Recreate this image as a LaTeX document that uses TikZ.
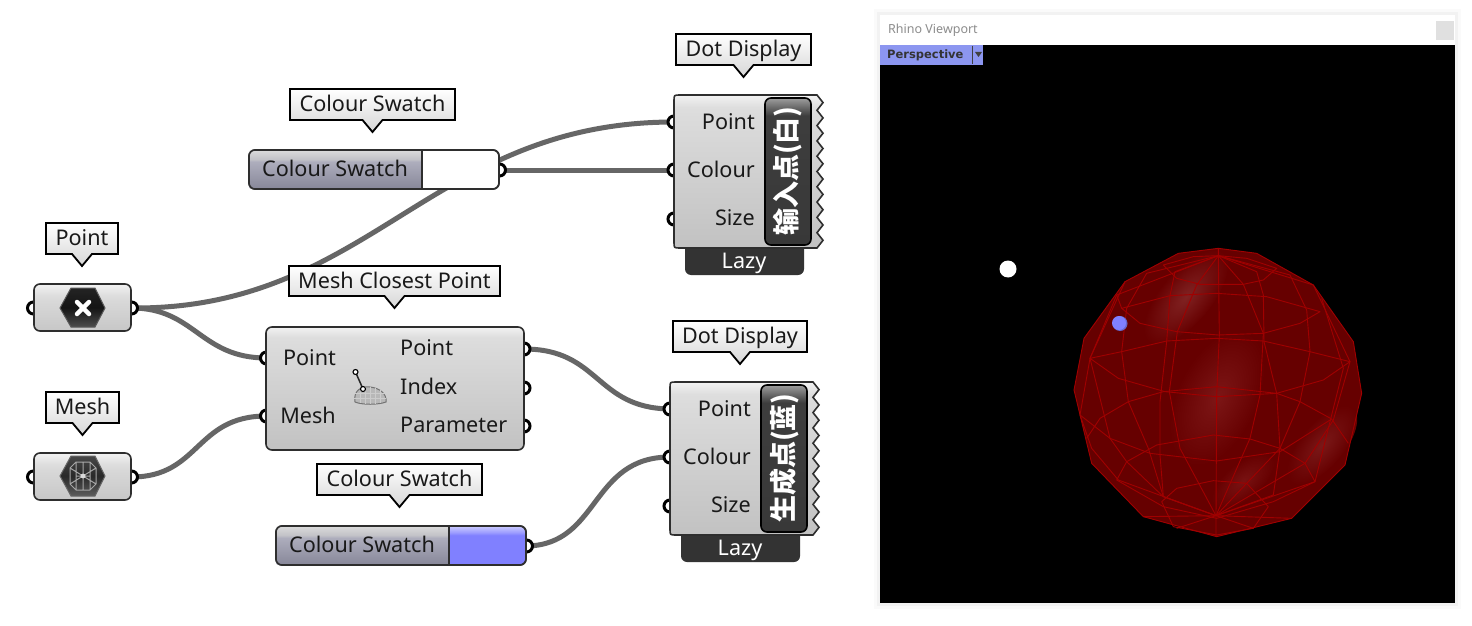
\documentclass[tikz,border=0pt]{standalone}
\usepackage{fontspec}
\setmainfont{Noto Sans}
\newfontfamily\cjk{Noto Sans CJK SC}
\newfontfamily\tabfont{DejaVu Sans}
\usetikzlibrary{shapes.geometric}
\pgfdeclarelayer{wirelayer}
\pgfsetlayers{wirelayer,main}
\pgfdeclareverticalshading{compshade}{100bp}{rgb(0bp)=(.76,.76,.76); rgb(25bp)=(.76,.76,.76); rgb(68bp)=(.86,.86,.86); rgb(71bp)=(.87,.87,.87); rgb(75bp)=(.95,.95,.95); rgb(100bp)=(.95,.95,.95)}
\pgfdeclareverticalshading{paramshade}{100bp}{rgb(0bp)=(.78,.78,.78); rgb(25bp)=(.78,.78,.78); rgb(58bp)=(.85,.85,.85); rgb(63bp)=(.87,.87,.87); rgb(75bp)=(.95,.95,.95); rgb(100bp)=(.95,.95,.95)}
\pgfdeclareverticalshading{tipshade}{100bp}{rgb(0bp)=(.84,.84,.84); rgb(25bp)=(.84,.84,.84); rgb(75bp)=(1,1,1); rgb(100bp)=(1,1,1)}
\pgfdeclareverticalshading{labelshade}{100bp}{rgb(0bp)=(.22,.22,.22); rgb(25bp)=(.22,.22,.22); rgb(69bp)=(.24,.24,.24); rgb(71bp)=(.36,.36,.36); rgb(75bp)=(.62,.62,.62); rgb(100bp)=(.62,.62,.62)}
\pgfdeclareverticalshading{swatchshade}{100bp}{rgb(0bp)=(.53,.53,.60); rgb(25bp)=(.53,.53,.60); rgb(60bp)=(.68,.68,.74); rgb(63bp)=(.76,.76,.78); rgb(75bp)=(.86,.86,.86); rgb(100bp)=(.86,.86,.86)}
\pgfdeclareverticalshading{blueshade}{100bp}{rgb(0bp)=(.5,.5,1); rgb(25bp)=(.5,.5,1); rgb(63bp)=(.5,.5,1); rgb(67bp)=(.62,.62,1); rgb(75bp)=(.8,.8,1); rgb(100bp)=(.8,.8,1)}
\pgfdeclareverticalshading{hexshade}{100bp}{rgb(0bp)=(.30,.30,.30); rgb(25bp)=(.30,.30,.30); rgb(50bp)=(.08,.08,.08); rgb(75bp)=(.14,.14,.14); rgb(100bp)=(.14,.14,.14)}
\pgfdeclareverticalshading{hexmesh}{100bp}{rgb(0bp)=(.36,.36,.36); rgb(25bp)=(.36,.36,.36); rgb(50bp)=(.16,.16,.16); rgb(75bp)=(.28,.28,.28); rgb(100bp)=(.28,.28,.28)}
\definecolor{wirec}{HTML}{666666}
\definecolor{edgec}{HTML}{2E2E2E}
\definecolor{lazyc}{HTML}{333333}
\definecolor{tabc}{HTML}{8C96F0}
\definecolor{meshc}{HTML}{A00000}
\definecolor{bluedot}{HTML}{8080FF}
\definecolor{spherec}{HTML}{660000}
\definecolor{hla}{HTML}{802222}
\definecolor{hlb}{HTML}{7C1616}
\definecolor{hlc}{HTML}{7A1818}
\definecolor{hld}{HTML}{781212}
\tikzset{
  x=1pt,y=-1pt,
  port/.style={circle,draw=black,fill=white,line width=3pt,minimum size=12pt,inner sep=0pt},
  wire/.style={draw=wirec,line width=5pt},
  txt/.style={font=\fontsize{21.6}{26}\selectfont,text=black!90,inner sep=0pt,text height=17pt,text depth=2.5pt},
  comp/.style={draw=edgec,line width=1.6pt,shading=compshade,rounded corners=6pt},
  param/.style={draw=edgec,line width=1.6pt,shading=paramshade,rounded corners=6pt},
  tipbox/.style={draw=black,line width=1.8pt,shading=tipshade,line join=miter},
  meshline/.style={draw=meshc,line width=.9pt,line join=round},
}
% tooltip: id x1 y1 x2 y2 text
\newcommand{\tipnote}[6]{%
  \path[tipbox] (#2,#3) -- (#4,#3) -- (#4,#5) -- ({(#2+#4)/2+10},#5) -- ({(#2+#4)/2},#5+12) -- ({(#2+#4)/2-10},#5) -- (#2,#5) -- cycle;
  \node[txt] (#1) at ({(#2+#4)/2},{(#3+#5)/2}) {#6};}
% dot display
\newcommand{\dotdisp}[4]{%
\begin{scope}[shift={(#2,#3)}]
  \node[port] (#1a) at (674,122) {};
  \node[port] (#1b) at (674,170) {};
  \node[port] (#1c) at (674,219) {};
  \path[fill=lazyc,rounded corners=6pt] (685,235) rectangle (804,275);
  \node[txt,text=white] (#1lazy) at (744,261.5) {Lazy};
  \path[draw=edgec,line width=1.6pt,shading=compshade] (680,95) -- (817,95)
     \foreach \i in {0,...,9} { -- (823,{95+15.3*\i+7.6}) -- (817,{95+15.3*(\i+1)}) }
     -- (680,248) .. controls (674,248) .. (674,242) -- (674,101) .. controls (674,95) .. (680,95) -- cycle;
  \path[draw=black,line width=1.6pt,shading=labelshade,rounded corners=6pt] (765,98) rectangle (811,245);
  \node[rotate=90,font=\fontsize{27}{30}\selectfont\cjk\bfseries,text=white,inner sep=0pt] (#1name) at (788,171) {#4};
  \node[txt,anchor=east] (#1pt) at (755,122) {Point};
  \node[txt,anchor=east] (#1col) at (755,170) {Colour};
  \node[txt,anchor=east] (#1sz) at (755,218.5) {Size};
\end{scope}}
% colour swatch
\newcommand{\swatchbox}[4]{%
\begin{scope}[shift={(#2,#3)}]
  \node[port] (#1o) at (499.5,170) {};
  \path[draw=edgec,line width=1.6pt,#4,rounded corners=6pt] (249,150) rectangle (499,189);
  \path[shading=swatchshade] (422,150) -- (255,150) .. controls (249,150) .. (249,156) -- (249,183) .. controls (249,189) .. (255,189) -- (422,189) -- cycle;
  \path[draw=edgec,line width=1.6pt,rounded corners=6pt] (249,150) rectangle (499,189);
  \draw[edgec,line width=1.4pt] (422,150) -- (422,189);
  \node[txt] (#1t) at (335,169) {Colour Swatch};
\end{scope}}
\begin{document}
\begin{tikzpicture}
\useasboundingbox (0,0) rectangle (1472,626);
\begin{pgfonlayer}{wirelayer}
\fill[white] (0,0) rectangle (1472,626);
\end{pgfonlayer}
% ---- Viewport window
\fill[black!2] (874,9) rectangle (1461,609);
\fill[black!5] (877,12) rectangle (1458,606);
\fill[white] (880,15) rectangle (1455,45);
\fill[black] (880,45) rectangle (1455,603);
\node[anchor=west,inner sep=0pt,text=black!45,font=\fontsize{12.5}{15}\selectfont] (vtitle) at (888,30) {Rhino Viewport};
\fill[black!12] (1436,21) rectangle (1454,40);
\path[fill=tabc] (880,45) rectangle (983,65);
\node[anchor=west,inner sep=0pt,text=black!80,font=\fontsize{11.5}{14}\selectfont\tabfont\bfseries] (vtab) at (887,55.5) {Perspective};
\draw[black!75,line width=.9pt] (972.5,46) -- (972.5,64);
\fill[black!75] (975,52) -- (982,52) -- (978.5,57) -- cycle;
% ---- Sphere
\begin{scope}[shift={(1060,235)},x=.33333pt,y=-.33333pt]
  \path[fill=spherec] (475,40) -- (590,55) -- (760,150) -- (880,320) -- (905,475) -- (855,690) -- (695,850) -- (470,905) -- (250,845) -- (95,685) -- (42,465) -- (72,310) -- (195,140) -- (355,55) -- cycle;
\end{scope}
\shade[inner color=hla,outer color=spherec,transform canvas={shift={(1186,297)},rotate=50}] (0,0) ellipse (58 and 26);
\shade[inner color=hlb,outer color=spherec,transform canvas={shift={(1217,398)},rotate=65}] (0,0) ellipse (72 and 40);
\shade[inner color=hlc,outer color=spherec,transform canvas={shift={(1322,445)},rotate=50}] (0,0) ellipse (48 and 22);
\shade[inner color=hld,outer color=spherec,transform canvas={shift={(1243,481)},rotate=40}] (0,0) ellipse (38 and 18);
\begin{scope}[shift={(1060,235)},x=.33333pt,y=-.33333pt]
  \path[meshline] (475,40) -- (590,55) -- (760,150) -- (880,320) -- (905,475) -- (855,690) -- (695,850) -- (470,905) -- (250,845) -- (95,685) -- (42,465) -- (72,310) -- (195,140) -- (355,55) -- cycle;
  % latitude rings
  \path[meshline] (310,90) -- (350,130) -- (420,148) -- (550,148) -- (610,135) -- (650,100) -- (560,70) -- (475,62) -- (400,65) -- cycle;
  \path[meshline] (170,180) -- (185,220) -- (240,265) -- (350,290) -- (475,300) -- (610,295) -- (720,265) -- (780,230) -- (620,185) -- (470,175) -- (330,182) -- (185,220);
  \path[meshline] (90,370) -- (175,430) -- (315,470) -- (470,485) -- (650,475) -- (790,435) -- (870,380) -- (750,350) -- (610,318) -- (470,310) -- (320,318) -- (185,350) -- cycle;
  \path[meshline] (60,540) -- (150,610) -- (270,655) -- (470,678) -- (660,650) -- (815,552) -- (720,500) -- (650,475) -- (470,455) -- (310,470) -- (205,500) -- (120,550) -- (80,610);
  \path[meshline] (815,552) -- (865,625);
  \path[meshline] (170,735) -- (200,680) -- (290,630) -- (460,600) -- (570,612) -- (660,640) -- (735,685) -- (765,740) -- (640,800) -- (470,850) -- (310,815) -- cycle;
  \path[meshline] (305,800) -- (350,760) -- (460,737) -- (560,745) -- (625,815) -- (580,880) -- (470,900) -- (340,875) -- cycle;
  % meridians
  \path[meshline] (475,40) -- (475,62) -- (478,300) -- (470,480) -- (468,842) -- (468,905);
  \path[meshline] (475,62) -- (410,150) -- (352,290) -- (328,470) -- (360,640) -- (468,842);
  \path[meshline] (475,62) -- (550,148) -- (610,295) -- (600,480) -- (570,610) -- (468,842);
  \path[meshline] (475,62) -- (345,110) -- (330,182) -- (320,320) -- (300,500) -- (300,660) -- (310,785) -- (468,842);
  \path[meshline] (475,62) -- (590,110) -- (610,180) -- (612,320) -- (650,475) -- (660,640) -- (640,780) -- (468,842);
  \path[meshline] (475,62) -- (260,115) -- (200,220) -- (185,350) -- (205,500) -- (265,640) -- (310,785) -- (468,842);
  \path[meshline] (475,62) -- (690,120) -- (740,225) -- (750,350) -- (720,500) -- (660,640) -- (560,745) -- (468,842);
  \path[meshline] (475,62) -- (170,180) -- (90,370) -- (60,540) -- (95,640) -- (175,735) -- (468,842);
  \path[meshline] (475,62) -- (760,150) -- (870,380) -- (820,555) -- (735,685) -- (468,842);
  \path[meshline] (195,140) -- (90,370) -- (150,610) -- (200,680) -- (310,785);
  \path[meshline] (785,190) -- (850,400) -- (800,600) -- (765,740) -- (468,842);
  \path[meshline] (250,845) -- (468,842) -- (695,850);
  \path[meshline] (350,880) -- (468,842) -- (580,880);
\end{scope}
\fill[white] (1008,269) circle (8.5);
\fill[bluedot!80!black] (1120,323.5) circle (7.5);
\fill[bluedot] (1119,323) circle (7);
% ---- Point and Mesh parameters
\node[port] (pti) at (33.5,308) {};
\node[port] (pto) at (131.5,308) {};
\path[param] (34,284) rectangle (131,331);
\path[shading=hexshade,draw=black!65,line width=1pt] (60,308) -- (71,288) -- (95,288) -- (105,308) -- (95,327) -- (71,327) -- cycle;
\draw[white,line width=4.5pt,line cap=round] (77,302) -- (89,314) (89,302) -- (77,314);
\node[port] (mi) at (33.5,477) {};
\node[port] (mo) at (131.5,477) {};
\path[param] (34,453) rectangle (131,500);
\path[shading=hexmesh,draw=black!60,line width=1pt] (60,476) -- (71,456) -- (95,456) -- (105,476) -- (95,496) -- (71,496) -- cycle;
\draw[black!35,line width=1pt] (70,468) -- (76,462) -- (90,462) -- (96,468) -- (96,484) -- (90,490) -- (76,490) -- (70,484) -- cycle (83,462) -- (83,490) (70,468) -- (96,484) (70,484) -- (96,468) (76,476) -- (90,476) (76,462) -- (76,490) (90,462) -- (90,490);
\fill[white!85!black] (83,476) circle (2.4);
% ---- Mesh Closest Point
\node[port] (mcpa) at (266.5,358) {};
\node[port] (mcpb) at (266.5,416) {};
\node[port] (mcpc) at (524,349) {};
\node[port] (mcpd) at (524,388) {};
\node[port] (mcpe) at (524,426) {};
\path[comp] (266,327) rectangle (524,450);
\node[txt] (mcpi1) at (309.5,358) {Point};
\node[txt] (mcpi2) at (308,416) {Mesh};
\node[txt,anchor=west] (mcpo1) at (400,348.5) {Point};
\node[txt,anchor=west] (mcpo2) at (400,387) {Index};
\node[txt,anchor=west] (mcpo3) at (400,425.5) {Parameter};
% icon
\draw[black!85,line width=1.5pt] (355.5,372) -- (363,389);
\path[fill=black!28,draw=black!55,line width=1pt] (355,402) .. controls (353,390) and (362,386) .. (370,387) .. controls (380,388) and (387,394) .. (386,402) .. controls (378,405) and (362,405) .. (355,402) -- cycle;
\draw[white!80!black,line width=.5pt] (360,389) -- (360,403) (365,387) -- (365,404) (370,387) -- (370,404) (375,388) -- (375,404) (380,390) -- (380,403) (355,393) -- (385,393) (354,398) -- (386,398);
\draw[black,fill=white,line width=1.1pt] (355.5,372) circle (2.5);
\draw[black,fill=white,line width=1.1pt] (363,389) circle (2.5);
% ---- Swatches
\swatchbox{sa}{0}{0}{fill=white}
\swatchbox{sb}{27}{376}{shading=blueshade}
% ---- Dot displays
\dotdisp{da}{0}{0}{输入点(白)}
\dotdisp{db}{-4}{287}{生成点(蓝)}
% ---- Tooltips
\tipnote{ta}{676}{34}{811}{65}{Dot Display}
\tipnote{tb}{290}{89}{455}{120}{Colour Swatch}
\tipnote{tc}{46}{223}{118}{254}{Point}
\tipnote{td}{289}{266}{500}{296}{Mesh Closest Point}
\tipnote{te}{673}{321}{807}{352}{Dot Display}
\tipnote{tf}{46}{392}{119}{423}{Mesh}
\tipnote{tg}{317}{464}{482}{495}{Colour Swatch}
% ---- Wires
\begin{pgfonlayer}{wirelayer}
\draw[wire] (pto.center) .. controls (370,310) and (430,122) .. (daa.center);
\draw[wire] (pto.center) .. controls (195,308) and (200,358) .. (mcpa.center);
\draw[wire] (mo.center) .. controls (200,477) and (195,416) .. (mcpb.center);
\draw[wire] (sao.center) -- (dab.center);
\draw[wire] (mcpc.center) .. controls (600,349) and (595,408) .. (dba.center);
\draw[wire] (sbo.center) .. controls (600,545) and (590,457) .. (dbb.center);
\end{pgfonlayer}
\end{tikzpicture}
\end{document}
